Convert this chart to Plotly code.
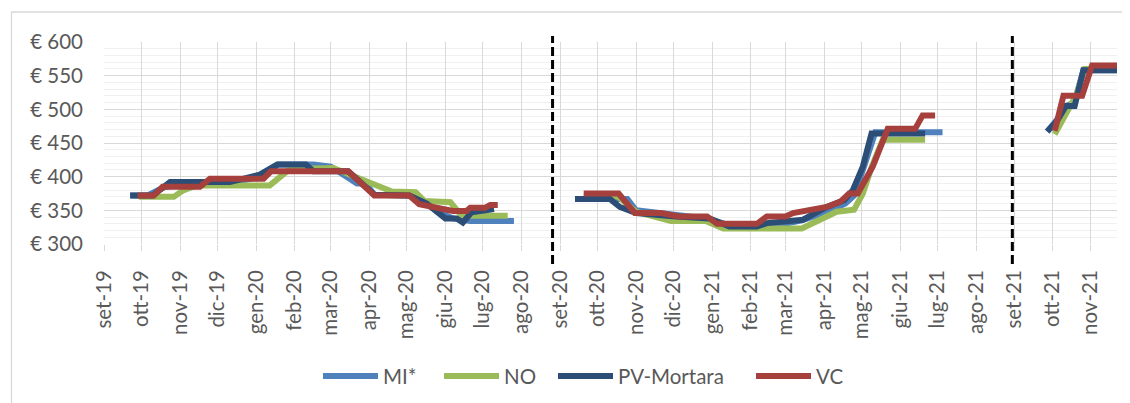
import pandas as pd
import plotly.graph_objects as go

# ---------------- data ----------------
months_it = ["set", "ott", "nov", "dic", "gen", "feb", "mar", "apr", "mag",
             "giu", "lug", "ago"]
tick_dates = pd.date_range("2019-09-01", "2021-11-01", freq="MS")
tick_labels = [f"{months_it[(d.month - 9) % 12]}-{str(d.year)[2:]}" for d in tick_dates]

# break markers between the three campaigns (gap = None)
mi_dates = ["2019-09-22", "2019-10-06", "2019-10-20", "2019-11-10", "2019-11-24",
            "2019-12-15", "2020-01-05", "2020-01-19", "2020-02-16", "2020-03-01",
            "2020-03-22", "2020-03-29", "2020-04-05", "2020-05-03", "2020-05-17",
            "2020-05-31", "2020-06-07", "2020-06-21", "2020-07-26",
            "2020-08-20",
            "2020-09-13", "2020-10-25", "2020-11-01", "2020-11-29", "2020-12-27",
            "2021-01-17", "2021-02-21", "2021-03-14", "2021-04-04", "2021-04-18",
            "2021-04-25", "2021-05-02", "2021-05-12", "2021-07-05",
            "2021-08-20",
            "2021-09-27", "2021-10-05", "2021-10-12", "2021-10-19", "2021-10-26",
            "2021-11-22"]
mi_vals = [372, 372, 385, 388, 392,
           392, 400, 418, 418, 415,
           390, 390, 373, 372, 360,
           344, 338, 334, 334,
           None,
           367, 367, 350, 343, 338,
           327, 327, 335, 348, 360,
           372, 410, 466, 466,
           None,
           467, 485, 505, 510, 558,
           558]

no_dates = ["2019-09-29", "2019-10-27", "2019-11-03", "2019-11-14", "2020-01-12",
            "2020-01-28", "2020-03-03", "2020-03-17", "2020-04-12", "2020-04-19",
            "2020-05-08", "2020-05-15", "2020-06-05", "2020-06-14", "2020-07-21",
            "2020-08-20",
            "2020-09-20", "2020-10-18", "2020-11-01", "2020-11-15", "2020-11-29",
            "2020-12-27", "2021-01-10", "2021-03-14", "2021-03-28", "2021-04-11",
            "2021-04-25", "2021-05-02", "2021-05-09", "2021-05-18", "2021-06-21",
            "2021-08-20",
            "2021-10-03", "2021-10-13", "2021-10-20", "2021-10-27", "2021-11-22"]
no_vals = [370, 370, 379, 387, 387,
           411, 413, 403, 384, 378,
           377, 364, 362, 342, 342,
           None,
           370, 370, 348, 340, 334,
           334, 323, 323, 336, 348,
           351, 375, 414, 455, 455,
           None,
           463, 498, 520, 560, 560]

pv_dates = ["2019-09-22", "2019-10-10", "2019-10-24", "2019-12-11", "2020-01-04",
            "2020-01-18", "2020-02-10", "2020-02-16", "2020-03-15", "2020-04-05",
            "2020-05-03", "2020-05-17", "2020-06-01", "2020-06-10", "2020-06-15",
            "2020-06-22", "2020-07-10",
            "2020-08-20",
            "2020-09-13", "2020-10-11", "2020-10-19", "2020-11-01", "2020-12-03",
            "2020-12-30", "2021-01-15", "2021-02-06", "2021-02-14", "2021-03-15",
            "2021-04-03", "2021-04-17", "2021-04-24", "2021-05-02", "2021-05-09",
            "2021-06-21",
            "2021-08-20",
            "2021-09-27", "2021-10-05", "2021-10-12", "2021-10-19", "2021-10-26",
            "2021-11-22"]
pv_vals = [372, 372, 392, 392, 403,
           418, 418, 408, 408, 373,
           372, 360, 338, 338, 332,
           347, 352,
           None,
           367, 367, 355, 346, 341,
           338, 326, 326, 331, 336,
           355, 365, 380, 415, 464,
           464,
           None,
           467, 483, 505, 505, 558,
           558]

vc_dates = ["2019-09-28", "2019-10-11", "2019-10-18", "2019-11-17", "2019-11-25",
            "2020-01-07", "2020-01-13", "2020-03-15", "2020-04-05", "2020-05-03",
            "2020-05-11", "2020-06-07", "2020-06-18", "2020-06-21", "2020-07-03",
            "2020-07-07", "2020-07-13",
            "2020-08-20",
            "2020-09-20", "2020-10-18", "2020-10-31", "2020-11-21", "2020-12-05",
            "2020-12-28", "2021-01-05", "2021-02-06", "2021-02-14", "2021-03-01",
            "2021-03-07", "2021-03-21", "2021-04-03", "2021-04-14", "2021-04-21",
            "2021-04-28", "2021-05-04", "2021-05-10", "2021-05-22", "2021-06-13",
            "2021-06-19", "2021-06-29",
            "2021-08-20",
            "2021-10-03", "2021-10-10", "2021-10-25", "2021-11-02", "2021-11-22"]
vc_vals = [372, 372, 385, 385, 397,
           397, 408, 408, 372, 372,
           359, 349, 349, 354, 354,
           358, 358,
           None,
           375, 375, 346, 346, 341,
           341, 330, 330, 341, 341,
           346, 351, 355, 363, 375,
           375, 395, 415, 471, 471,
           491, 491,
           None,
           468, 520, 520, 565, 565]

campaign_breaks = ["2020-08-26", "2021-08-30"]

series_names = ["MI*", "NO", "PV-Mortara", "VC"]
series_dates = [mi_dates, no_dates, pv_dates, vc_dates]
series_vals = [mi_vals, no_vals, pv_vals, vc_vals]
series_colors = ["#4F81BD", "#9BBB59", "#2C4D75", "#A5403D"]

# ---------------- layout helpers (pixel geometry of the page) ----------------
OFF = 8                      # default body margin of the html page
PL, PR, PT, PB = 104, 1117, 42, 244   # plot area in page pixels
PW, PH = PR - PL, PB - PT


def px(xp):
    return (xp - PL) / PW


def py(yp):
    return (PB - yp) / PH


FONT = "Lato, 'Open Sans', sans-serif"
FS = 20.5
TXT = "#595959"
GRID = "#D9D9D9"
LW = 6

fig = go.Figure()
for name, d, v, c in zip(series_names, series_dates, series_vals, series_colors):
    fig.add_trace(go.Scatter(x=d, y=v, name=name, mode="lines",
                             line=dict(color=c, width=LW),
                             connectgaps=False, showlegend=False))

shapes = []
annotations = []
for b in campaign_breaks:
    shapes.append(dict(type="line", xref="x", yref="paper", x0=b, x1=b,
                       y0=py(264), y1=py(36),
                       line=dict(color="black", width=3, dash="9px,4px")))
# chart frame
shapes.append(dict(type="rect", xref="paper", yref="paper",
                   x0=px(11.5), x1=px(1140), y0=py(420), y1=py(12),
                   line=dict(color=GRID, width=1.3), layer="below"))

# legend drawn below the plot (line key + label)
legend_x = [323, 444, 558, 756]
LEG_Y = 376
for name, c, lx in zip(series_names, series_colors, legend_x):
    shapes.append(dict(type="line", xref="paper", yref="paper",
                       x0=px(lx), x1=px(lx + 55), y0=py(LEG_Y), y1=py(LEG_Y),
                       line=dict(color=c, width=LW)))
    annotations.append(dict(xref="paper", yref="paper", x=px(lx + 58), y=py(LEG_Y),
                            xanchor="left", yanchor="middle", showarrow=False,
                            text=name, font=dict(family=FONT, size=FS, color=TXT)))

fig.update_layout(
    width=1130 - OFF, height=403 - OFF, autosize=False,
    margin=dict(l=PL - OFF, r=1130 - PR, t=PT - OFF, b=403 - PB, autoexpand=False),
    paper_bgcolor="white", plot_bgcolor="white",
    font=dict(family=FONT, size=FS, color=TXT),
    showlegend=False,
    shapes=shapes,
    annotations=annotations,
    xaxis=dict(type="date", range=["2019-09-01", "2021-11-22"],
               tickvals=list(tick_dates), ticktext=tick_labels,
               tickangle=-90, showgrid=True, gridcolor=GRID, gridwidth=1.3,
               ticks="outside", ticklen=6, tickcolor=GRID, tickwidth=1.3,
               ticklabelstandoff=11,
               showline=False, zeroline=False, automargin=False,
               tickfont=dict(family=FONT, size=FS, color=TXT)),
    yaxis=dict(range=[300, 600], dtick=50, tick0=300, tickprefix="€ ",
               showgrid=True, gridcolor=GRID, gridwidth=1.3,
               minor=dict(dtick=10, showgrid=True, gridcolor="#F0F0F0",
                          gridwidth=1),
               ticklabelstandoff=20, showline=False, zeroline=False,
               automargin=False,
               tickfont=dict(family=FONT, size=FS, color=TXT)),
)

fig.write_html("out.html")
